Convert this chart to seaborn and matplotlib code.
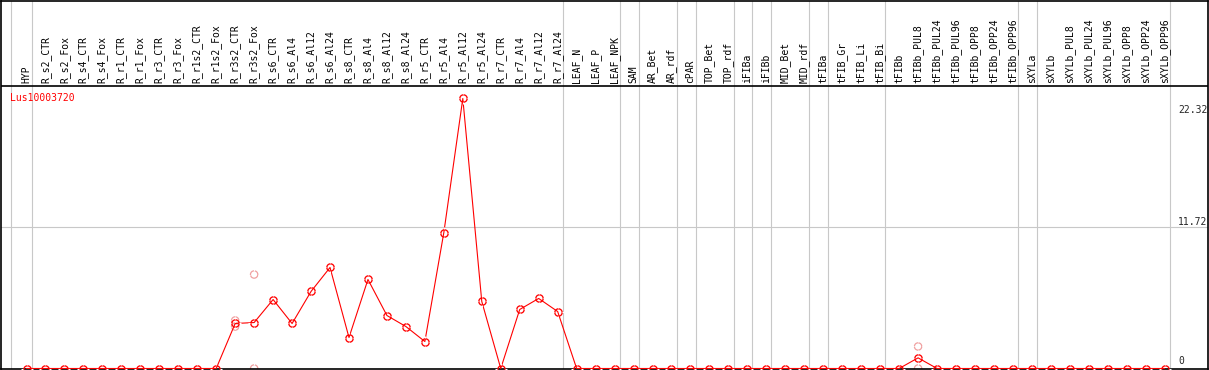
import numpy as np
import matplotlib
matplotlib.use("Agg")
import matplotlib.pyplot as plt
from matplotlib.path import Path
import seaborn as sns

# column headers (one per sample)
samples = ["HYP",
           "R_s2_CTR", "R_s2_Fox", "R_s4_CTR", "R_s4_Fox", "R_r1_CTR", "R_r1_Fox",
           "R_r3_CTR", "R_r3_Fox", "R_r1s2_CTR", "R_r1s2_Fox", "R_r3s2_CTR", "R_r3s2_Fox",
           "R_s6_CTR", "R_s6_Al4", "R_s6_Al12", "R_s6_Al24", "R_s8_CTR", "R_s8_Al4",
           "R_s8_Al12", "R_s8_Al24", "R_r5_CTR", "R_r5_Al4", "R_r5_Al12", "R_r5_Al24",
           "R_r7_CTR", "R_r7_Al4", "R_r7_Al12", "R_r7_Al24",
           "LEAF_N", "LEAF_P", "LEAF_NPK", "SAM", "AR_Bet", "AR_rdf", "cPAR",
           "TOP_Bet", "TOP_rdf", "iFIBa", "iFIBb", "MID_Bet", "MID_rdf", "tFIBa",
           "tFIB_Gr", "tFIB_Li", "tFIB_Bi", "tFIBb", "tFIBb_PUL8", "tFIBb_PUL24",
           "tFIBb_PUL96", "tFIBb_OPP8", "tFIBb_OPP24", "tFIBb_OPP96", "sXYLa", "sXYLb",
           "sXYLb_PUL8", "sXYLb_PUL24", "sXYLb_PUL96", "sXYLb_OPP8", "sXYLb_OPP24",
           "sXYLb_OPP96"]

# number of samples in each tissue group (separated by grey lines)
group_sizes = [1, 28, 3, 1, 2, 1, 2, 1, 1, 2, 1, 3, 7, 1, 7]

# mean expression per sample
expr = [0, 0, 0, 0, 0, 0, 0, 0, 0, 0, 0, 3.72, 3.80, 5.70, 3.72, 6.37, 8.35,
        2.56, 7.36, 4.38, 3.47, 2.23, 11.24, 22.32, 5.54, 0, 4.88, 5.79, 4.71,
        0, 0, 0, 0, 0, 0, 0, 0, 0, 0, 0, 0, 0, 0, 0, 0, 0, 0, 0.88, 0, 0, 0, 0, 0,
        0, 0, 0, 0, 0, 0, 0, 0]

# single replicates that differ from the mean
rep_sample = ["R_r3s2_CTR", "R_r3s2_CTR", "R_r3s2_Fox", "R_r3s2_Fox", "tFIBb_PUL8", "tFIBb_PUL8"]
rep_value = [3.97, 3.47, 7.77, 0, 1.82, 0]

gene = "Lus10003720"
y_ticks = [0, 11.72, 22.32]

# four short ticks around the circle markers
r = 0.72
verts, codes = [], []
for dx, dy in [(1, 0), (-1, 0), (0, 1), (0, -1)]:
    verts += [(dx * r, dy * r), (dx, dy)]
    codes += [Path.MOVETO, Path.LINETO]
ticks = Path(verts, codes)

W, H = 1209, 370
fig = plt.figure(figsize=(W / 100, H / 100), dpi=100)
ax = fig.add_axes([0.5 / W, 1.5 / H, 1207 / W, 368 / H])

sns.set_style("white")
plt.rcParams["font.family"] = ["DejaVu Sans Mono"]

px_per_col = 18.97
px_per_unit = 12.097
x0 = 26.5
ax.set_xlim(-(x0 - 0.5) / px_per_col, (1207.5 - x0) / px_per_col)
ax.set_ylim(0, 368 / px_per_unit)
header_y = (368 - 85) / px_per_unit

idx = np.arange(len(samples))
pos = {s: i for i, s in enumerate(samples)}
rep_x = [pos[s] for s in rep_sample]

grey = "#c8c8c8"
red = "#ff0000"
pink = "#f0a0a0"

# group separators
ax.axvline(-0.83, color=grey, lw=0.8, zorder=0)
for b in np.cumsum(group_sizes) - 1:
    ax.axvline(b + 0.27, color=grey, lw=0.8, zorder=0)
ax.axhline(11.72, color=grey, lw=0.8, zorder=0)
ax.axhline(header_y, color="black", lw=1.2, zorder=3)

# replicates
sns.scatterplot(x=rep_x, y=rep_value, marker="o", s=28, facecolors="none",
                edgecolor=pink, linewidth=0.9, ax=ax, zorder=2)
sns.scatterplot(x=rep_x, y=rep_value, marker=ticks, s=70, color=pink,
                linewidth=0.8, ax=ax, zorder=2)

# means
sns.lineplot(x=idx, y=expr, color=red, lw=0.8, marker="o", markersize=5.3,
             markerfacecolor="none", markeredgecolor=red, markeredgewidth=0.95,
             ax=ax, zorder=4)
sns.scatterplot(x=idx, y=expr, marker=ticks, s=70, color=red, linewidth=0.8,
                ax=ax, zorder=4)

# column headers
for i, s in enumerate(samples):
    ax.annotate(s, (i, header_y), xytext=(0, 1.5), textcoords="offset points",
                rotation=90, ha="center", va="bottom", fontsize=7, color="black")

ax.text(-0.87, 22.4, gene, color=red, fontsize=7, va="center", ha="left")

# value labels at the right
x_lab = (1178 - x0) / px_per_col
ax.annotate("22.32", (x_lab, y_ticks[2]), xytext=(0, -5), textcoords="offset points",
            ha="left", va="top", fontsize=7)
ax.annotate("11.72", (x_lab, y_ticks[1]), xytext=(0, 0), textcoords="offset points",
            ha="left", va="bottom", fontsize=7)
ax.annotate("0", (x_lab, y_ticks[0]), xytext=(0, 2), textcoords="offset points",
            ha="left", va="bottom", fontsize=7)

ax.set_xticks([])
ax.set_yticks([])
ax.set_xlabel("")
ax.set_ylabel("")
for sp in ax.spines.values():
    sp.set_color("black")
    sp.set_linewidth(1.2)
if ax.get_legend():
    ax.get_legend().remove()

fig.savefig("out.png", dpi=100)
